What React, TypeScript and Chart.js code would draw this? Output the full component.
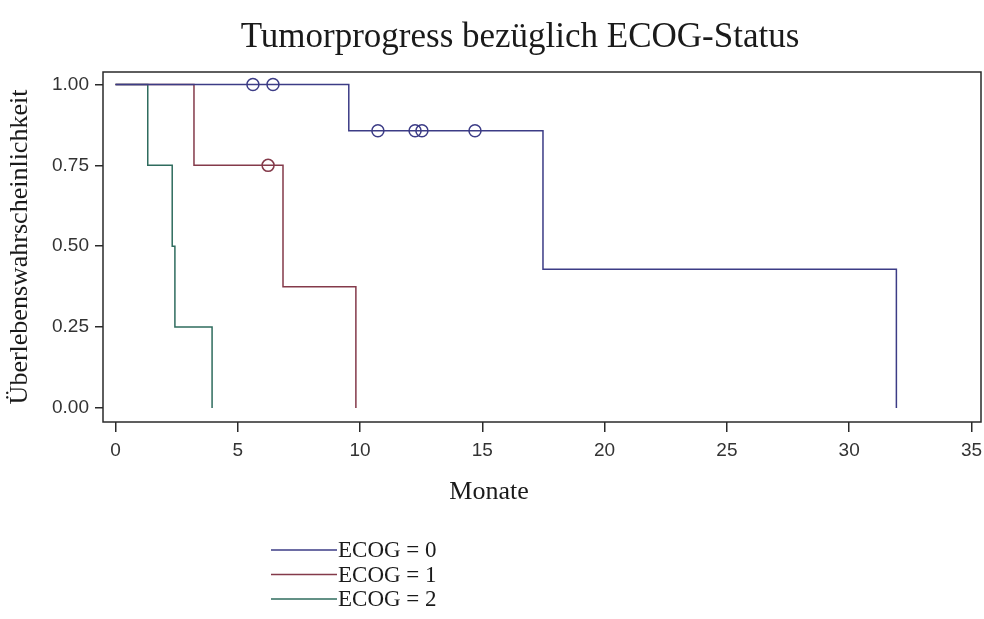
import React, { useEffect, useRef } from "react";
import { Chart, registerables } from "chart.js";

Chart.register(...registerables);

// ---- data ----
const chartTitle = "Tumorprogress bezüglich ECOG-Status";
const xAxisTitle = "Monate";
const yAxisTitle = "Überlebenswahrscheinlichkeit";

const seriesLabels = ["ECOG = 0", "ECOG = 1", "ECOG = 2"];
const seriesColors = ["#3c3c86", "#843a4a", "#2f6c5e"];

const ecog0Times = [0, 9.54, 17.48, 31.93];
const ecog0Surv = [1, 0.857, 0.429, 0];
const ecog0CensorTimes = [5.62, 6.44, 10.73, 12.25, 12.53, 14.7];
const ecog0CensorSurv = [1, 1, 0.857, 0.857, 0.857, 0.857];

const ecog1Times = [0, 3.21, 6.85, 9.83];
const ecog1Surv = [1, 0.75, 0.375, 0];
const ecog1CensorTimes = [6.24];
const ecog1CensorSurv = [0.75];

const ecog2Times = [0, 1.32, 2.32, 2.43, 3.95];
const ecog2Surv = [1, 0.75, 0.5, 0.25, 0];

const xTicks = [0, 5, 10, 15, 20, 25, 30, 35];
const yTicks = [0, 0.25, 0.5, 0.75, 1];

const toPoints = (xs: number[], ys: number[]) => xs.map((x, i) => ({ x, y: ys[i] }));

const SERIF = "'Liberation Serif', 'Times New Roman', serif";
const SANS = "'Liberation Sans', Arial, sans-serif";

const framePlugin = {
  id: "frameBox",
  afterDatasetsDraw(chart: any) {
    const { ctx, chartArea } = chart;
    ctx.save();
    ctx.strokeStyle = "#2a2a2a";
    ctx.lineWidth = 1.5;
    ctx.strokeRect(chartArea.left, chartArea.top, chartArea.right - chartArea.left, chartArea.bottom - chartArea.top);
    ctx.restore();
  },
};

const textPlugin = {
  id: "titles",
  afterDraw(chart: any) {
    const { ctx } = chart;
    ctx.save();
    ctx.fillStyle = "#1a1a1a";
    ctx.textAlign = "center";
    ctx.textBaseline = "middle";
    ctx.font = `35px ${SERIF}`;
    ctx.fillText(chartTitle, 520, 38);
    ctx.font = `26px ${SERIF}`;
    ctx.fillText(xAxisTitle, 489, 492);
    ctx.restore();
  },
};

const legendPlugin = {
  id: "stackedLegend",
  afterDraw(chart: any) {
    const { ctx } = chart;
    ctx.save();
    ctx.font = `23px ${SERIF}`;
    ctx.textAlign = "left";
    ctx.textBaseline = "middle";
    seriesLabels.forEach((label, i) => {
      const y = 550 + i * 24.5;
      ctx.strokeStyle = seriesColors[i];
      ctx.lineWidth = 1.5;
      ctx.beginPath();
      ctx.moveTo(271, y);
      ctx.lineTo(337, y);
      ctx.stroke();
      ctx.fillStyle = "#1a1a1a";
      ctx.fillText(label, 338, y + 1);
    });
    ctx.restore();
  },
};

export default function App() {
  const ref = useRef<HTMLCanvasElement | null>(null);

  useEffect(() => {
    if (!ref.current) return;
    const lineDs = (i: number, xs: number[], ys: number[]) => ({
      type: "line" as const,
      label: seriesLabels[i],
      data: toPoints(xs, ys),
      borderColor: seriesColors[i],
      backgroundColor: seriesColors[i],
      borderWidth: 1.5,
      stepped: "before" as const,
      pointRadius: 0,
      fill: false,
    });
    const censorDs = (i: number, xs: number[], ys: number[]) => ({
      type: "line" as const,
      label: seriesLabels[i] + " zensiert",
      data: toPoints(xs, ys),
      borderColor: seriesColors[i],
      backgroundColor: "rgba(0,0,0,0)",
      showLine: false,
      pointStyle: "circle",
      pointRadius: 6,
      pointBorderWidth: 1.5,
      pointBorderColor: seriesColors[i],
      pointBackgroundColor: "rgba(255,255,255,0)",
    });

    const chart = new Chart(ref.current, {
      type: "line",
      data: {
        datasets: [
          lineDs(0, ecog0Times, ecog0Surv),
          lineDs(1, ecog1Times, ecog1Surv),
          lineDs(2, ecog2Times, ecog2Surv),
          censorDs(0, ecog0CensorTimes, ecog0CensorSurv),
          censorDs(1, ecog1CensorTimes, ecog1CensorSurv),
        ] as any,
      },
      options: {
        animation: false,
        responsive: false,
        devicePixelRatio: 1,
        layout: { autoPadding: false, padding: { top: 72, left: 0, right: 3, bottom: 112 } },
        plugins: {
          legend: { display: false },
          title: { display: false },
          tooltip: { enabled: false },
        },
        scales: {
          x: {
            type: "linear",
            min: -0.51,
            max: 35.39,
            afterBuildTicks: (s: any) => {
              s.ticks = xTicks.map((v) => ({ value: v }));
            },
            afterFit: (s: any) => {
              s.height = 85;
              s.paddingLeft = 0;
              s.paddingRight = 0;
            },
            border: { display: false },
            grid: {
              drawOnChartArea: false,
              drawTicks: true,
              tickLength: 10,
              color: "#2a2a2a",
              lineWidth: 1.5,
            },
            ticks: {
              padding: 0,
              color: "#333",
              font: { family: SANS, size: 19, lineHeight: 2.0 },
              callback: (v: any) => String(v),
              maxRotation: 0,
            },
            title: { display: false },
          },
          y: {
            type: "linear",
            min: -0.0433,
            max: 1.0386,
            afterBuildTicks: (s: any) => {
              s.ticks = yTicks.map((v) => ({ value: v }));
            },
            afterFit: (s: any) => {
              s.width = 103;
              s.paddingTop = 0;
              s.paddingBottom = 0;
            },
            border: { display: false },
            grid: {
              drawOnChartArea: false,
              drawTicks: true,
              tickLength: 8,
              color: "#2a2a2a",
              lineWidth: 1.5,
            },
            ticks: {
              padding: 6,
              color: "#333",
              font: { family: SANS, size: 19 },
              callback: (v: any) => Number(v).toFixed(2),
            },
            title: {
              display: true,
              text: yAxisTitle,
              color: "#1a1a1a",
              font: { family: SERIF, size: 26 },
              padding: { top: 5, bottom: 0 },
            },
          },
        },
      },
      plugins: [framePlugin, textPlugin, legendPlugin],
    });
    return () => chart.destroy();
  }, []);

  return (
    <div style={{ position: "absolute", left: 0, top: 0, width: 984, height: 619, background: "#fff" }}>
      <canvas ref={ref} width={984} height={619} style={{ display: "block" }} />
    </div>
  );
}
